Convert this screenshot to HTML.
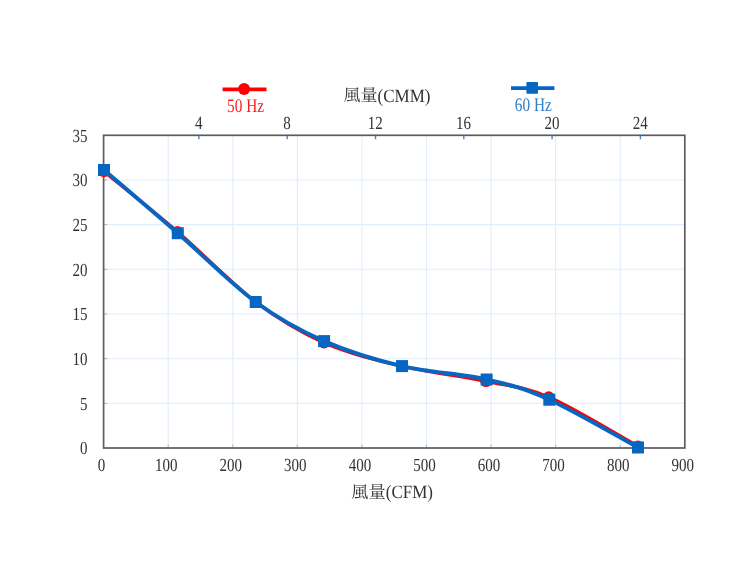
<!DOCTYPE html>
<html lang="zh-Hant"><head><meta charset="utf-8"><title>風量</title>
<style>html,body{margin:0;padding:0;background:#fff}body{width:750px;height:587px;overflow:hidden}svg{display:block;filter:blur(0.45px)}text{text-rendering:geometricPrecision;font-family:"Liberation Serif","Noto Serif CJK SC",serif;fill:#333}</style></head><body>
<svg width="750" height="587" viewBox="0 0 750 587">
<rect width="750" height="587" fill="#fff"/>
<path d="M168.2 135.3 V448.0 M232.8 135.3 V448.0 M297.3 135.3 V448.0 M361.9 135.3 V448.0 M426.5 135.3 V448.0 M491.1 135.3 V448.0 M555.6 135.3 V448.0 M620.2 135.3 V448.0 M103.6 403.3 H684.8 M103.6 358.7 H684.8 M103.6 314.0 H684.8 M103.6 269.3 H684.8 M103.6 224.6 H684.8 M103.6 180.0 H684.8" stroke="#e0edfc" stroke-width="1.1" fill="none"/>
<path d="M168.2 448.0 v-3.5 M232.8 448.0 v-3.5 M297.3 448.0 v-3.5 M361.9 448.0 v-3.5 M426.5 448.0 v-3.5 M491.1 448.0 v-3.5 M555.6 448.0 v-3.5 M620.2 448.0 v-3.5 M103.6 403.3 h3.5 M103.6 358.7 h3.5 M103.6 314.0 h3.5 M103.6 269.3 h3.5 M103.6 224.6 h3.5 M103.6 180.0 h3.5" stroke="#b5b5b5" stroke-width="1" fill="none"/>
<path d="M198.9 135.3 v4 M287.2 135.3 v4 M375.5 135.3 v4 M463.8 135.3 v4 M552.1 135.3 v4 M640.4 135.3 v4" stroke="#4a86d0" stroke-width="1.4" fill="none"/>
<rect x="103.6" y="135.3" width="581.2" height="312.7" fill="none" stroke="#5c5c5c" stroke-width="1.7"/>
<path d="M104.0 171.5 C116.2 181.6 152.2 210.1 177.5 231.8 C202.8 253.6 231.3 283.5 255.7 302.0 C280.1 320.5 299.6 332.0 324.0 342.7 C348.4 353.4 375.0 359.8 402.0 366.2 C429.0 372.6 461.6 376.2 486.0 381.3 C510.4 386.4 523.4 386.2 548.7 397.0 C574.0 407.8 623.1 438.1 638.0 446.3" stroke="#ff0000" stroke-width="3.4" fill="none" stroke-linejoin="round" stroke-linecap="round"/>
<circle cx="104.0" cy="171.5" r="5.8" fill="#ff0000"/>
<circle cx="177.5" cy="231.8" r="5.8" fill="#ff0000"/>
<circle cx="255.7" cy="302.0" r="5.8" fill="#ff0000"/>
<circle cx="324.0" cy="342.7" r="5.8" fill="#ff0000"/>
<circle cx="402.0" cy="366.2" r="5.8" fill="#ff0000"/>
<circle cx="486.0" cy="381.3" r="5.8" fill="#ff0000"/>
<circle cx="548.7" cy="397.0" r="5.8" fill="#ff0000"/>
<circle cx="638.0" cy="446.3" r="5.8" fill="#ff0000"/>
<path d="M104.0 170.0 C116.3 180.5 152.5 211.2 177.8 233.2 C203.1 255.2 231.3 284.0 255.7 302.0 C280.1 320.0 299.7 330.4 324.1 341.1 C348.5 351.8 374.9 359.7 402.0 366.1 C429.1 372.5 462.1 373.9 486.6 379.5 C511.2 385.1 524.1 388.4 549.3 399.7 C574.5 411.0 623.2 439.5 638.0 447.5" stroke="#0766c2" stroke-width="4.0" fill="none" stroke-linejoin="round" stroke-linecap="round"/>
<rect x="98.0" y="164.0" width="12" height="12" fill="#0766c2"/>
<rect x="171.8" y="227.2" width="12" height="12" fill="#0766c2"/>
<rect x="249.7" y="296.0" width="12" height="12" fill="#0766c2"/>
<rect x="318.1" y="335.1" width="12" height="12" fill="#0766c2"/>
<rect x="396.0" y="360.1" width="12" height="12" fill="#0766c2"/>
<rect x="480.6" y="373.5" width="12" height="12" fill="#0766c2"/>
<rect x="543.3" y="393.7" width="12" height="12" fill="#0766c2"/>
<rect x="632.0" y="441.5" width="12" height="12" fill="#0766c2"/>
<text transform="translate(87.5 454.3) scale(1 1.23)" text-anchor="end" font-size="15">0</text>
<text transform="translate(87.5 409.6) scale(1 1.23)" text-anchor="end" font-size="15">5</text>
<text transform="translate(87.5 365.0) scale(1 1.23)" text-anchor="end" font-size="15">10</text>
<text transform="translate(87.5 320.3) scale(1 1.23)" text-anchor="end" font-size="15">15</text>
<text transform="translate(87.5 275.6) scale(1 1.23)" text-anchor="end" font-size="15">20</text>
<text transform="translate(87.5 230.9) scale(1 1.23)" text-anchor="end" font-size="15">25</text>
<text transform="translate(87.5 186.3) scale(1 1.23)" text-anchor="end" font-size="15">30</text>
<text transform="translate(87.5 141.6) scale(1 1.23)" text-anchor="end" font-size="15">35</text>
<text transform="translate(101.6 471.1) scale(1 1.23)" text-anchor="middle" font-size="15">0</text>
<text transform="translate(166.2 471.1) scale(1 1.23)" text-anchor="middle" font-size="15">100</text>
<text transform="translate(230.8 471.1) scale(1 1.23)" text-anchor="middle" font-size="15">200</text>
<text transform="translate(295.3 471.1) scale(1 1.23)" text-anchor="middle" font-size="15">300</text>
<text transform="translate(359.9 471.1) scale(1 1.23)" text-anchor="middle" font-size="15">400</text>
<text transform="translate(424.5 471.1) scale(1 1.23)" text-anchor="middle" font-size="15">500</text>
<text transform="translate(489.1 471.1) scale(1 1.23)" text-anchor="middle" font-size="15">600</text>
<text transform="translate(553.6 471.1) scale(1 1.23)" text-anchor="middle" font-size="15">700</text>
<text transform="translate(618.2 471.1) scale(1 1.23)" text-anchor="middle" font-size="15">800</text>
<text transform="translate(682.8 471.1) scale(1 1.23)" text-anchor="middle" font-size="15">900</text>
<text transform="translate(198.7 128.6) scale(1 1.23)" text-anchor="middle" font-size="15">4</text>
<text transform="translate(287.0 128.6) scale(1 1.23)" text-anchor="middle" font-size="15">8</text>
<text transform="translate(375.3 128.6) scale(1 1.23)" text-anchor="middle" font-size="15">12</text>
<text transform="translate(463.6 128.6) scale(1 1.23)" text-anchor="middle" font-size="15">16</text>
<text transform="translate(551.9 128.6) scale(1 1.23)" text-anchor="middle" font-size="15">20</text>
<text transform="translate(640.2 128.6) scale(1 1.23)" text-anchor="middle" font-size="15">24</text>
<text transform="translate(343.6 101.4) scale(1 1.00)" text-anchor="start" font-size="17">風量</text>
<text transform="translate(377.6 101.6) scale(1 1.10)" text-anchor="start" font-size="17">(CMM)</text>
<text transform="translate(351.2 498.4) scale(1 1.00)" text-anchor="start" font-size="17.2">風量</text>
<text transform="translate(385.8 498.2) scale(1 1.10)" text-anchor="start" font-size="17">(CFM)</text>
<path d="M222.6 89.4 H266.5" stroke="#ff0000" stroke-width="3.6"/><circle cx="244.1" cy="88.9" r="6" fill="#ff0000"/>
<text transform="translate(245.6 112.0) scale(1 1.25)" text-anchor="middle" font-size="15.3" style="fill:#ff1a1a">50 Hz</text>
<path d="M511 88.1 H554.4" stroke="#0766c2" stroke-width="3.6"/><rect x="526.4" y="82" width="11.6" height="11.7" rx="1" fill="#0766c2"/>
<text transform="translate(533.3 110.8) scale(1 1.25)" text-anchor="middle" font-size="15.3" style="fill:#2f7dc6">60 Hz</text>
</svg></body></html>
